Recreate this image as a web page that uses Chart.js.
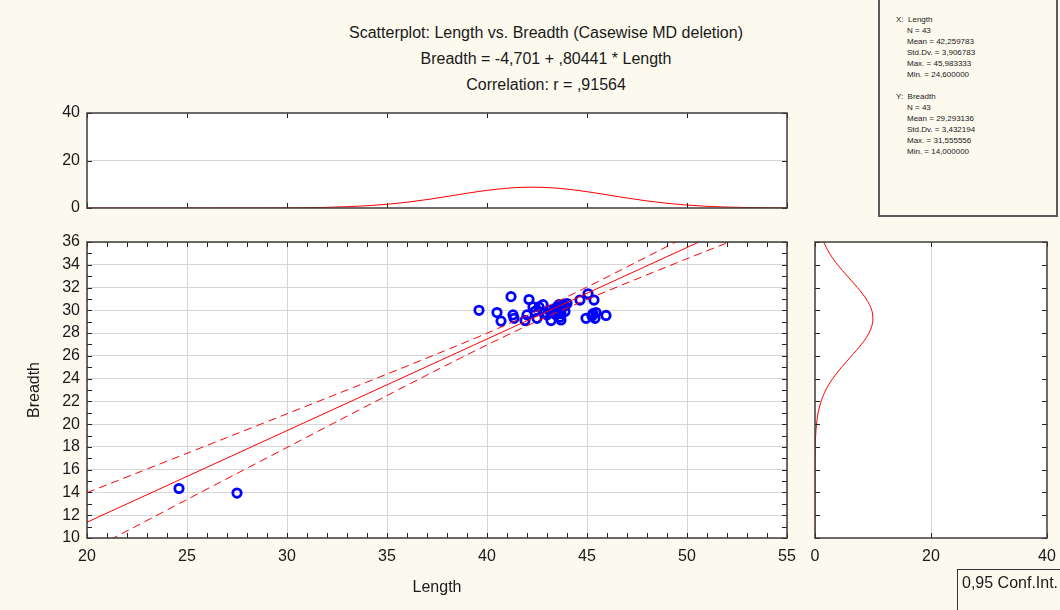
<!DOCTYPE html>
<html lang="en">

<head>
  <meta charset="UTF-8">
  <title>Scatterplot: Length vs. Breadth</title>
  <script src="https://cdn.jsdelivr.net/npm/chart.js"></script>
  <style>
    html, body { margin: 0; padding: 0; }
    body {
      width: 1060px; height: 610px; overflow: hidden; position: relative;
      background: #fcf9ee; font-family: "Liberation Sans", Arial, sans-serif; color: #1a1a1a;
    }
    .box { position: absolute; }
    .title { position: absolute; left: 246px; width: 600px; text-align: center; font-size: 16px; line-height: 18px; }
    .stats {
      position: absolute; left: 878px; top: 0; width: 176px; height: 215px;
      border: 2px solid #5a5a5a; border-top: none; font-size: 8px; line-height: 11px;
    }
    .stats p { margin: 0; padding-left: 27px; }
    .stats p.head { padding-left: 16px; }
    .legend {
      position: absolute; left: 957px; top: 569px; width: 120px; height: 60px;
      border: 1px solid #333; font-size: 16px; line-height: 18px; padding: 4px 0 0 4px; box-sizing: border-box;
    }
  </style>
</head>

<body>

  <div class="title" style="top:24px">Scatterplot: Length vs. Breadth (Casewise MD deletion)</div>
  <div class="title" style="top:50px">Breadth = -4,701 + ,80441 * Length</div>
  <div class="title" style="top:76px">Correlation: r = ,91564</div>

  <div class="stats">
    <div style="height:14px"></div>
    <p class="head">X:&nbsp; Length</p>
    <p>N = 43</p>
    <p>Mean = 42,259783</p>
    <p>Std.Dv. = 3,906783</p>
    <p>Max. = 45,983333</p>
    <p>Min. = 24,600000</p>
    <p>&nbsp;</p>
    <p class="head">Y:&nbsp; Breadth</p>
    <p>N = 43</p>
    <p>Mean = 29,293136</p>
    <p>Std.Dv. = 3,432194</p>
    <p>Max. = 31,555556</p>
    <p>Min. = 14,000000</p>
  </div>

  <div class="box" style="left:0;top:100px;width:800px;height:120px"><canvas id="topChart"></canvas></div>
  <div class="box" style="left:0;top:232px;width:800px;height:378px"><canvas id="mainChart"></canvas></div>
  <div class="box" style="left:800px;top:232px;width:260px;height:378px"><canvas id="sideChart"></canvas></div>

  <div class="legend">0,95 Conf.Int.</div>

  <script>
    const lengthVals = [24.6, 27.5, 39.6, 40.5, 40.7, 41.2, 41.3, 41.35, 41.9, 42.0,
      42.1, 42.3, 42.4, 42.5, 42.6, 42.8, 42.9, 43.0, 43.1, 43.2,
      43.25, 43.4, 43.45, 43.5, 43.55, 43.6, 43.65, 43.7, 43.7, 43.75,
      43.8, 43.9, 43.9, 44.0, 44.65, 45.05, 45.35, 44.95, 45.3, 45.4,
      45.25, 45.45, 45.95];
    const breadthVals = [14.35, 13.95, 30.0, 29.8, 29.05, 31.2, 29.6, 29.3, 29.1, 29.6,
      30.95, 30.3, 29.9, 29.3, 30.3, 30.5, 29.8, 29.6, 30.0, 29.1,
      29.8, 30.1, 29.6, 30.3, 29.9, 30.5, 29.4, 29.7, 29.15, 30.2,
      30.45, 30.4, 29.9, 30.6, 30.9, 31.45, 30.9, 29.3, 29.7, 29.3,
      29.5, 29.8, 29.55];

    // regression line and 95% band
    const fitX = [20, 55];
    const fitY = [11.39, 39.54];
    const bandX = [20, 22.5, 25, 27.5, 30, 32.5, 35, 37.5, 40, 42.5, 45, 47.5, 50, 52.5, 55];
    const bandUpper = [13.98, 15.71, 17.44, 19.17, 20.91, 22.65, 24.40, 26.17, 27.99, 29.93, 32.04, 34.26, 36.51, 38.79, 41.07];
    const bandLower = [8.79, 11.08, 13.38, 15.67, 17.95, 20.24, 22.51, 24.76, 26.96, 29.04, 30.95, 32.76, 34.53, 36.27, 38.01];

    // marginal normal curves
    const lenGrid = [20, 24, 28, 30, 32, 34, 35, 36, 37, 38, 39, 40, 41, 42, 43, 44, 45, 46, 47, 48, 49, 50, 51, 52, 53, 54, 55];
    const lenCurve = [0, 0, 0.01, 0.06, 0.28, 0.94, 1.56, 2.43, 3.55, 4.85, 6.20, 7.43, 8.33, 8.76, 8.62, 7.95, 6.87, 5.55, 4.21, 2.98, 1.98, 1.23, 0.72, 0.39, 0.20, 0.10, 0.04];
    const brGrid = [10, 12, 14, 16, 18, 19, 20, 21, 22, 23, 24, 25, 26, 27, 28, 29, 30, 31, 32, 33, 34, 35, 36];
    const brCurve = [0, 0, 0, 0.01, 0.05, 0.11, 0.26, 0.54, 1.05, 1.86, 3.05, 4.58, 6.31, 8.00, 9.32, 9.96, 9.79, 8.83, 7.32, 5.58, 3.90, 2.50, 1.48];

    const pts = (xs, ys) => xs.map((v, i) => ({ x: v, y: ys[i] }));

    Chart.defaults.font.family = '"Liberation Sans", Arial, sans-serif';
    Chart.defaults.font.size = 16;
    Chart.defaults.color = '#1a1a1a';

    const GRID = '#d6d6d6';

    // fixed axis sizes, no extra label padding, so the three plots line up
    const fixY = w => s => { s.width = w; s.paddingTop = 0; s.paddingBottom = 0; };
    const fixX = h => s => { s.height = h; s.paddingLeft = 0; s.paddingRight = 0; };

    // white plot area, inward ticks on all four sides, frame
    const frameTicks = {
      id: 'frameTicks',
      beforeDraw(chart) {
        const { ctx, chartArea: a } = chart;
        ctx.save();
        ctx.fillStyle = '#fff';
        ctx.fillRect(a.left, a.top, a.width, a.height);
        ctx.restore();
      },
      afterDatasetsDraw(chart, args, opts) {
        const { ctx, chartArea: a, scales } = chart;
        const len = 5;
        ctx.save();
        ctx.strokeStyle = '#222';
        ctx.lineWidth = 1;
        ctx.beginPath();
        const sx = scales.x, sy = scales.y;
        for (let v = sx.min; v <= sx.max + 1e-9; v += opts.xStep) {
          const px = Math.round(sx.getPixelForValue(v)) + 0.5;
          ctx.moveTo(px, a.bottom); ctx.lineTo(px, a.bottom - len);
          ctx.moveTo(px, a.top); ctx.lineTo(px, a.top + len);
        }
        for (let v = sy.min; v <= sy.max + 1e-9; v += opts.yStep) {
          const py = Math.round(sy.getPixelForValue(v)) + 0.5;
          ctx.moveTo(a.left, py); ctx.lineTo(a.left + len, py);
          ctx.moveTo(a.right, py); ctx.lineTo(a.right - len, py);
        }
        ctx.stroke();
        ctx.lineWidth = 1.5;
        ctx.strokeStyle = '#3c3c3c';
        ctx.strokeRect(a.left, a.top, a.width, a.height);
        ctx.restore();
      }
    };

    const common = {
      responsive: true,
      maintainAspectRatio: false,
      animation: false,
      plugins: { legend: { display: false }, tooltip: { enabled: false } }
    };

    // Top marginal: Length distribution
    new Chart(document.getElementById('topChart'), {
      type: 'scatter',
      data: {
        datasets: [{
          data: pts(lenGrid, lenCurve),
          showLine: true,
          borderColor: '#ff0000',
          borderWidth: 1,
          pointRadius: 0,
          cubicInterpolationMode: 'monotone'
        }]
      },
      options: {
        ...common,
        layout: { padding: { top: 13, right: 13, bottom: 12, left: 0 } },
        plugins: { ...common.plugins, frameTicks: { xStep: 5, yStep: 20 } },
        scales: {
          x: { type: 'linear', min: 20, max: 55, display: false, afterFit: fixX(0) },
          y: {
            min: 0, max: 40,
            border: { display: false },
            grid: { drawTicks: false, color: c => c.tick.value === 20 ? GRID : 'rgba(0,0,0,0)' },
            ticks: { stepSize: 20, padding: 7 },
            afterFit: fixY(87)
          }
        }
      },
      plugins: [frameTicks]
    });

    // Main scatterplot
    new Chart(document.getElementById('mainChart'), {
      type: 'scatter',
      data: {
        datasets: [
          {
            data: pts(fitX, fitY),
            showLine: true, borderColor: '#ff0000', borderWidth: 1, pointRadius: 0
          },
          {
            data: pts(bandX, bandUpper),
            showLine: true, borderColor: '#ff0000', borderWidth: 1, pointRadius: 0,
            borderDash: [8, 5], tension: 0.3
          },
          {
            data: pts(bandX, bandLower),
            showLine: true, borderColor: '#ff0000', borderWidth: 1, pointRadius: 0,
            borderDash: [8, 5], tension: 0.3
          },
          {
            data: pts(lengthVals, breadthVals),
            pointRadius: 4.2,
            pointBorderWidth: 2.8,
            pointBorderColor: '#0000ff',
            pointBackgroundColor: 'rgba(0,0,0,0)'
          }
        ]
      },
      options: {
        ...common,
        layout: { padding: { top: 10, right: 13, bottom: 0, left: 0 } },
        plugins: { ...common.plugins, frameTicks: { xStep: 1, yStep: 1 } },
        scales: {
          x: {
            type: 'linear', min: 20, max: 55,
            border: { display: false },
            grid: { drawTicks: false, color: GRID },
            ticks: { stepSize: 5, padding: 9 },
            title: { display: true, text: 'Length', padding: { top: 0, bottom: 13 } },
            afterFit: fixX(72)
          },
          y: {
            min: 10, max: 36,
            border: { display: false },
            grid: { drawTicks: false, color: GRID },
            ticks: { stepSize: 2, padding: 7 },
            title: { display: true, text: 'Breadth', padding: { top: 25, bottom: 0 } },
            afterFit: fixY(87)
          }
        }
      },
      plugins: [frameTicks]
    });

    // Right marginal: Breadth distribution
    new Chart(document.getElementById('sideChart'), {
      type: 'scatter',
      data: {
        datasets: [{
          data: pts(brCurve, brGrid),
          showLine: true,
          borderColor: '#ff0000',
          borderWidth: 1,
          pointRadius: 0,
          tension: 0.3
        }]
      },
      options: {
        ...common,
        layout: { padding: { top: 10, right: 13, bottom: 0, left: 15 } },
        plugins: { ...common.plugins, frameTicks: { xStep: 20, yStep: 2 } },
        scales: {
          x: {
            type: 'linear', min: 0, max: 40,
            border: { display: false },
            grid: { drawTicks: false, color: c => c.tick.value === 20 ? GRID : 'rgba(0,0,0,0)' },
            ticks: { stepSize: 20, padding: 9 },
            afterFit: fixX(72)
          },
          y: { min: 10, max: 36, display: false, afterFit: fixY(0) }
        }
      },
      plugins: [frameTicks]
    });
  </script>
</body>

</html>
